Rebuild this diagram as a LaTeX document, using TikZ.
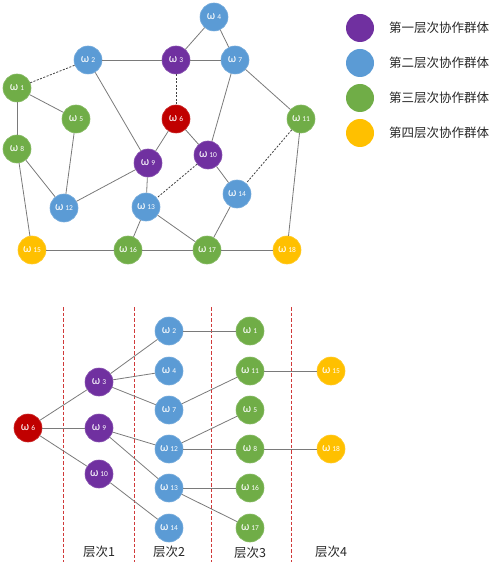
\documentclass[tikz,border=0pt]{standalone}
\usepackage{fontspec}
\setmainfont{Carlito}
\newfontfamily\cjk{Noto Sans CJK SC}
\definecolor{cpurple}{HTML}{7030A0}
\definecolor{cblue}{HTML}{5B9BD5}
\definecolor{cgreen}{HTML}{70AD47}
\definecolor{corange}{HTML}{FFC000}
\definecolor{cred}{HTML}{C00000}
\definecolor{csep}{HTML}{D03A3A}
\definecolor{cline}{HTML}{7A7A7A}
\definecolor{ctext}{HTML}{262626}
\newcommand{\wl}[1]{{\fontsize{12}{12}\selectfont ω\,}{\fontsize{7.5}{7.5}\selectfont #1}}
\tikzset{
  nd/.style={circle, minimum size=28pt, inner sep=0pt, text=white, draw=#1!85!white, line width=0.6pt, fill=#1},
  P/.style={nd=cpurple}, B/.style={nd=cblue}, G/.style={nd=cgreen}, O/.style={nd=corange}, R/.style={nd=cred},
  ln/.style={draw=cline, line width=0.8pt},
  dl/.style={draw=black!75, line width=0.8pt, dash pattern=on 2pt off 1.5pt},
  sep/.style={draw=csep, line width=1pt, dash pattern=on 3.5pt off 2pt},
  lg/.style={font=\cjk\fontsize{12.5}{12.5}\selectfont, text=ctext, anchor=west, inner sep=0pt},
  lv/.style={font=\cjk\fontsize{12.5}{12.5}\selectfont, text=ctext, inner sep=0pt}
}
\begin{document}
\begin{tikzpicture}[x=1pt,y=-1pt]
\useasboundingbox (0,0) rectangle (500,569);
% ---------- top graph ----------
\node[B] (t4) at (214,17) {\wl{4}};
\node[B] (t2) at (88,60) {\wl{2}};
\node[P] (t3) at (176,60) {\wl{3}};
\node[B] (t7) at (235,60) {\wl{7}};
\node[G] (t1) at (17,88) {\wl{1}};
\node[G] (t5) at (76,119) {\wl{5}};
\node[R] (t6) at (176,119) {\wl{6}};
\node[G] (t11) at (301,119) {\wl{11}};
\node[G] (t8) at (17,149) {\wl{8}};
\node[P] (t9) at (148,163) {\wl{9}};
\node[P] (t10) at (208,155) {\wl{10}};
\node[B] (t14) at (237,194) {\wl{14}};
\node[B] (t12) at (64,208) {\wl{12}};
\node[B] (t13) at (146,207) {\wl{13}};
\node[O] (t15) at (32,250) {\wl{15}};
\node[G] (t16) at (128,250) {\wl{16}};
\node[G] (t17) at (207,250) {\wl{17}};
\node[O] (t18) at (287,250) {\wl{18}};
\draw[ln] (t4)--(t3); \draw[ln] (t4)--(t7);
\draw[ln] (t2)--(t3); \draw[ln] (t3)--(t7);
\draw[dl] (t1)--(t2); \draw[dl] (t3)--(t6);
\draw[ln] (t2)--(t9); \draw[ln] (t1)--(t5); \draw[ln] (t1)--(t8);
\draw[ln] (t7)--(t10); \draw[ln] (t7)--(t11);
\draw[ln] (t6)--(t9); \draw[ln] (t6)--(t10);
\draw[ln] (t5)--(t12); \draw[ln] (t8)--(t12); \draw[ln] (t8)--(t15);
\draw[ln] (t9)--(t12); \draw[ln] (t9)--(t13);
\draw[dl] (t10)--(t13); \draw[ln] (t10)--(t14);
\draw[dl] (t11)--(t14); \draw[ln] (t11)--(t18);
\draw[ln] (t13)--(t16); \draw[ln] (t13)--(t17); \draw[ln] (t14)--(t17);
\draw[ln] (t15)--(t16); \draw[ln] (t16)--(t17); \draw[ln] (t17)--(t18);
% ---------- legend ----------
\node[nd=cpurple, draw=none] (l1) at (360,28) {};
\node[nd=cblue, draw=none] (l2) at (360,63) {};
\node[nd=cgreen, draw=none] (l3) at (360,98) {};
\node[nd=corange, draw=none] (l4) at (360,133) {};
\node[lg] (lt1) at (389,28) {第一层次协作群体};
\node[lg] (lt2) at (389,63) {第二层次协作群体};
\node[lg] (lt3) at (389,98) {第三层次协作群体};
\node[lg] (lt4) at (389,133) {第四层次协作群体};
% ---------- bottom tree ----------
\coordinate (s1a) at (63,307); \coordinate (s1b) at (63,562);
\coordinate (s2a) at (134,307); \coordinate (s2b) at (134,562);
\coordinate (s3a) at (211,307); \coordinate (s3b) at (211,562);
\coordinate (s4a) at (291,307); \coordinate (s4b) at (291,562);
\draw[sep] (s1a)--(s1b); \draw[sep] (s2a)--(s2b);
\draw[sep] (s3a)--(s3b); \draw[sep] (s4a)--(s4b);
\node[R] (b6) at (28,428) {\wl{6}};
\node[P] (b3) at (99,382) {\wl{3}};
\node[P] (b9) at (99,428) {\wl{9}};
\node[P] (b10) at (99,474) {\wl{10}};
\node[B] (b2) at (169,331) {\wl{2}};
\node[B] (b4) at (169,371) {\wl{4}};
\node[B] (b7) at (169,410) {\wl{7}};
\node[B] (b12) at (169,449) {\wl{12}};
\node[B] (b13) at (169,488) {\wl{13}};
\node[B] (b14) at (169,528) {\wl{14}};
\node[G] (b1) at (250,331) {\wl{1}};
\node[G] (b11) at (250,371) {\wl{11}};
\node[G] (b5) at (250,410) {\wl{5}};
\node[G] (b8) at (250,449) {\wl{8}};
\node[G] (b16) at (250,488) {\wl{16}};
\node[G] (b17) at (250,528) {\wl{17}};
\node[O] (b15) at (331,371) {\wl{15}};
\node[O] (b18) at (331,449) {\wl{18}};
\draw[ln] (b6)--(b3); \draw[ln] (b6)--(b9); \draw[ln] (b6)--(b10);
\draw[ln] (b3)--(b2); \draw[ln] (b3)--(b4); \draw[ln] (b3)--(b7);
\draw[ln] (b2)--(b1); \draw[ln] (b7)--(b11); \draw[ln] (b11)--(b15);
\draw[ln] (b9)--(b12); \draw[ln] (b9)--(b13);
\draw[ln] (b12)--(b5); \draw[ln] (b12)--(b8); \draw[ln] (b8)--(b18);
\draw[ln] (b13)--(b16); \draw[ln] (b13)--(b17); \draw[ln] (b10)--(b14);
\node[lv] (v1) at (99,552) {层次1};
\node[lv] (v2) at (169,552) {层次2};
\node[lv] (v3) at (250,553) {层次3};
\node[lv] (v4) at (331,552) {层次4};
\end{tikzpicture}
\end{document}
